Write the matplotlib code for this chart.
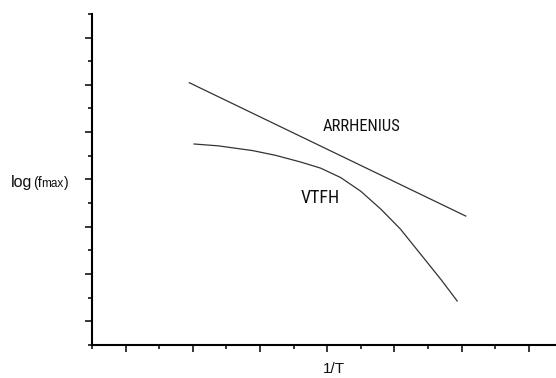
import matplotlib
matplotlib.use("Agg")
import matplotlib.pyplot as plt
from matplotlib.ticker import MultipleLocator

# Arrhenius law: a straight line in log(fmax) vs 1/T
arrhenius_x = [1.94, 6.07]
arrhenius_y = [6.05, 3.22]

# Vogel-Tammann-Fulcher-Hesse behaviour: curved, bending down at large 1/T
vtfh_x = [2.01, 2.38, 2.89, 3.23, 3.60, 3.90, 4.20, 4.50, 4.80, 5.09,
          5.39, 5.69, 5.94]
vtfh_y = [4.75, 4.71, 4.61, 4.51, 4.37, 4.24, 4.04, 3.75, 3.37, 2.95,
          2.42, 1.89, 1.42]

x_label = "1/T"
labels = {"ARRHENIUS": (4.51, 5.11, 12), "VTFH": (3.89, 3.61, 13)}

fig = plt.figure(figsize=(5.56, 3.78), dpi=100)
ax = fig.add_axes([0.1655, 0.0873, 0.846, 0.876])

line_kw = dict(color="#333333", lw=0.9, solid_capstyle="butt")
ax.plot(arrhenius_x, arrhenius_y, **line_kw)
ax.plot(vtfh_x, vtfh_y, **line_kw)

ax.set_xlim(0.5, 7.5)
ax.set_ylim(0.5, 7.5)

narrow = ["Roboto Condensed", "DejaVu Sans Condensed", "Liberation Sans Narrow",
          "Liberation Sans"]
for name, (tx, ty, size) in labels.items():
    ax.text(tx, ty, name, ha="center", va="center", fontsize=size,
            family=narrow, color="#111111")

ax.xaxis.set_major_locator(MultipleLocator(1.0))
ax.yaxis.set_major_locator(MultipleLocator(1.0))
ax.xaxis.set_minor_locator(MultipleLocator(0.5))
ax.yaxis.set_minor_locator(MultipleLocator(0.5))
ax.set_xticklabels([])
ax.set_yticklabels([])
ax.tick_params(which="major", length=5.0, width=1.1, direction="out", color="black")
ax.tick_params(which="minor", length=2.9, width=1.1, direction="out", color="black")

for side in ("top", "right"):
    ax.spines[side].set_visible(False)
for side in ("left", "bottom"):
    ax.spines[side].set_linewidth(1.5)
    ax.spines[side].set_color("black")

fam = ["Liberation Sans", "DejaVu Sans"]
fig.text(334 / 556, 1 - 369 / 378, x_label, ha="center", va="center",
         fontsize=11, family=fam, color="#111111")

# y-axis label: log(f_max) with a reduced-size "max"
t1 = fig.text(11 / 556, 1 - 187 / 378, "log", ha="left", va="baseline",
              fontsize=11.5, family=fam, color="#111111")
t2 = ax.annotate("(f", xy=(1, 0), xycoords=t1, xytext=(0.2, 0),
                 textcoords="offset points", ha="left", va="bottom",
                 fontsize=10, family=fam, color="#111111", annotation_clip=False)
t3 = ax.annotate("max", xy=(1, 0), xycoords=t2, xytext=(0.1, 0),
                 textcoords="offset points", ha="left", va="bottom",
                 fontsize=8.5, family=fam, color="#111111", annotation_clip=False)
t4 = ax.annotate(")", xy=(1, 0), xycoords=t3, xytext=(0.1, 0),
                 textcoords="offset points", ha="left", va="bottom",
                 fontsize=10, family=fam, color="#111111", annotation_clip=False)

fig.savefig("out.png", dpi=100)
